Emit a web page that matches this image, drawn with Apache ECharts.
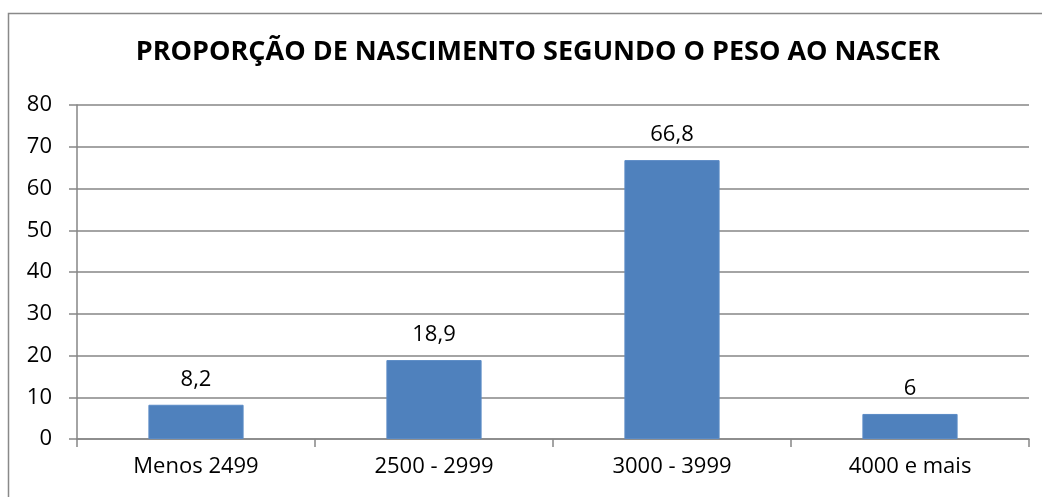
<!DOCTYPE html>
<html>
<head>
    <meta charset="UTF-8">
    <title>Proporção de nascimento segundo o peso ao nascer</title>
    <script src="https://cdn.jsdelivr.net/npm/echarts@6.0.0/dist/echarts.min.js"></script>
    <style>
        html, body { margin: 0; padding: 0; background: #fff; }
        #chart { width: 1042px; height: 497px; }
    </style>
</head>
<body>
<div id="chart"></div>
<script>
// dados
const categorias = ['Menos 2499', '2500 - 2999', '3000 - 3999', '4000 e mais'];
const valores = [8.2, 18.9, 66.8, 6];
const titulo = 'PROPORÇÃO DE NASCIMENTO SEGUNDO O PESO AO NASCER';

const fonte = '"Open Sans", Lato, sans-serif';
const cinza = '#868686';

const chart = echarts.init(document.getElementById('chart'));
chart.setOption({
    animation: false,
    title: {
        text: titulo,
        left: 533,
        textAlign: 'center',
        top: 34,
        textStyle: { fontFamily: fonte, fontWeight: 'bold', fontSize: 27, color: '#000' }
    },
    graphic: [{
        type: 'rect',
        shape: { x: 8.5, y: 13.5, width: 1100, height: 600 },
        style: { fill: 'none', stroke: '#898989', lineWidth: 1.5 },
        silent: true
    }],
    grid: { left: 77, right: 13, top: 105, bottom: 58 },
    xAxis: {
        type: 'category',
        data: categorias,
        axisLine: { lineStyle: { color: cinza, width: 1.5 } },
        axisTick: { show: true, length: 8, lineStyle: { color: cinza, width: 1.5 } },
        axisLabel: { fontFamily: fonte, fontSize: 22, color: '#000', margin: 17 }
    },
    yAxis: {
        type: 'value',
        min: 0,
        max: 80,
        interval: 10,
        axisLine: { show: true, lineStyle: { color: cinza, width: 1.5 } },
        axisTick: { show: true, length: 8, lineStyle: { color: cinza, width: 1.5 } },
        splitLine: { lineStyle: { color: cinza, width: 1.5 } },
        axisLabel: { fontFamily: fonte, fontSize: 22, color: '#000', margin: 25 }
    },
    series: [{
        type: 'bar',
        data: valores,
        barWidth: '40%',
        itemStyle: { color: '#4F81BD', borderColor: '#5B8BC6', borderWidth: 1 },
        label: {
            show: true,
            position: 'top',
            distance: 14,
            fontFamily: fonte,
            fontSize: 22,
            color: '#000',
            formatter: p => String(p.value).replace('.', ',')
        }
    }]
});
</script>
</body>
</html>
